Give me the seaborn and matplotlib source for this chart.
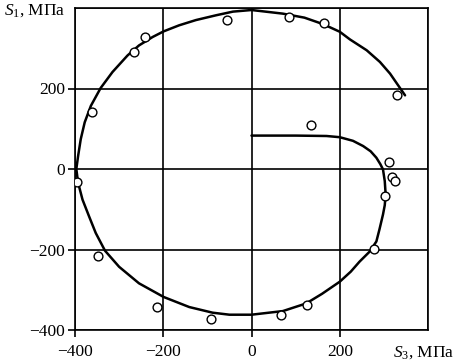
import matplotlib
matplotlib.use("Agg")
import matplotlib.pyplot as plt
import matplotlib.transforms as mtransforms
import seaborn as sns
import pandas as pd

# Curve (model), in order along the curve
curve_s3 = [0, 100, 170, 200, 230, 253, 270, 283, 292, 298, 302, 304, 302, 298, 290,
            283, 268, 245, 225, 200, 160, 124, 71, 0, -50, -88, -141, -199, -255,
            -300, -332, -353, -368, -383, -393, -397, -393, -387, -378, -364, -342,
            -315, -281, -255, -224, -199, -164, -126, -80, -42, 0, 71, 120, 162, 200,
            223, 261, 291, 314, 348]
curve_s1 = [83, 83, 82, 79, 70, 57, 44, 28, 12, -1, -30, -63, -90, -113, -150,
            -180, -205, -230, -255, -280, -310, -334, -353, -362, -362, -357, -343,
            -318, -284, -243, -203, -159, -118, -76, -34, 0, 32, 74, 116, 157, 201,
            241, 282, 307, 328, 342, 357, 370, 382, 391, 395, 386, 376, 360, 341,
            322, 295, 266, 237, 183]

# Experimental points
exp_s3 = [-395, -361, -267, -241, -55, 86, 164, 329, 134, 311, 319, 325, 302,
          277, 126, 66, -92, -215, -347]
exp_s1 = [-33, 142, 291, 329, 371, 377, 363, 185, 109, 18, -20, -31, -66,
          -199, -337, -363, -373, -342, -215]

xticks = [-400, -200, 0, 200, 400]
xticklabels = ["\u2212400", "\u2212200", "0", "200", "$S_3$, МПа"]
yticks = [-400, -200, 0, 200, 400]
yticklabels = ["\u2212400", "\u2212200", "0", "200", "$S_1$, МПа"]

sns.set_theme(style="white")
plt.rcParams["font.family"] = ["Liberation Serif", "DejaVu Serif"]
plt.rcParams["mathtext.fontset"] = "custom"
plt.rcParams["mathtext.rm"] = "Liberation Serif"
plt.rcParams["mathtext.it"] = "Liberation Serif:italic"

fig = plt.figure(figsize=(4.61, 3.62), dpi=100)
ax = fig.add_axes([75 / 461, 1 - 330 / 362, 353 / 461, 322 / 362])

curve_df = pd.DataFrame({"s3": curve_s3, "s1": curve_s1})
exp_df = pd.DataFrame({"s3": exp_s3, "s1": exp_s1})

sns.lineplot(data=curve_df, x="s3", y="s1", sort=False, estimator=None,
             color="black", linewidth=1.8, ax=ax, zorder=3)
sns.scatterplot(data=exp_df, x="s3", y="s1", marker="o", s=40,
                facecolor="white", edgecolor="black", linewidth=1.0, ax=ax, zorder=4)

ax.set_xlim(-400, 400)
ax.set_ylim(-400, 400)
ax.set_xticks(xticks)
ax.set_xticklabels(xticklabels)
ax.set_yticks(yticks)
ax.set_yticklabels(yticklabels)
ax.set_xlabel("")
ax.set_ylabel("")

ax.grid(True, color="black", linewidth=1.2)
ax.set_axisbelow(True)
for sp in ax.spines.values():
    sp.set_visible(True)
    sp.set_color("black")
    sp.set_linewidth(1.2)

ax.tick_params(axis="both", which="major", direction="out", length=5, width=1.2,
               color="black", labelsize=12.5, labelcolor="black")
ax.tick_params(axis="x", pad=5, bottom=True)
ax.tick_params(axis="y", pad=2, left=True)
ax.xaxis.get_major_ticks()[-1].tick1line.set_visible(False)
ax.yaxis.get_major_ticks()[-1].tick1line.set_visible(False)

# keep the S3 label inside the canvas like the reference
lab = ax.get_xticklabels()[-1]
lab.set_transform(lab.get_transform() + mtransforms.ScaledTranslation(-4 / 100, 0, fig.dpi_scale_trans))

fig.savefig("out.png", dpi=100)
